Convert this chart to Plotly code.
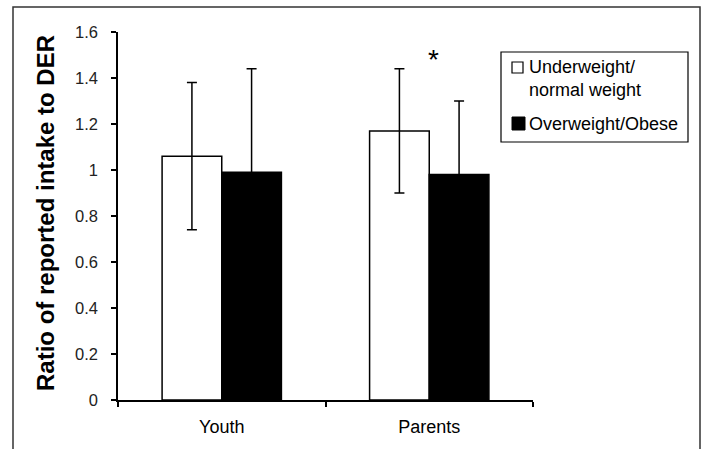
import plotly.graph_objects as go

categories = ["Youth", "Parents"]
normal_vals = [1.06, 1.17]
normal_err = [0.32, 0.27]
obese_vals = [0.99, 0.98]
obese_err = [0.45, 0.32]
y_ticks = [0, 0.2, 0.4, 0.6, 0.8, 1.0, 1.2, 1.4, 1.6]
y_ticktext = ["0", "0.2", "0.4", "0.6", "0.8", "1", "1.2", "1.4", "1.6"]
legend_labels = ["Underweight/<br>normal weight", "Overweight/Obese"]

W, H = 711, 449
L, R, T, B = 118, 178, 32, 49
pw, ph = W - L - R, H - T - B


def px(x):
    return (x - L) / pw


def py(y):
    return (H - B - y) / ph


FONT = "Liberation Sans, Arial, Helvetica, sans-serif"

fig = go.Figure()
fig.add_trace(go.Bar(
    x=categories, y=normal_vals, name=legend_labels[0],
    marker=dict(color="white", line=dict(color="black", width=1.5)),
    error_y=dict(type="data", array=normal_err, color="black", thickness=1.5, width=5),
))
fig.add_trace(go.Bar(
    x=categories, y=obese_vals, name=legend_labels[1],
    marker=dict(color="black", line=dict(color="black", width=1.5)),
    error_y=dict(type="data", array=obese_err, color="black", thickness=1.5, width=5),
))

# significance marker
fig.add_annotation(x="Parents", y=1.48, text="*", showarrow=False, xshift=4,
                   yanchor="middle", font=dict(size=28, color="black", family=FONT))

# y-axis title
fig.add_annotation(xref="paper", yref="paper", x=px(45), y=py(213),
                   text="<b>Ratio of reported intake to DER</b>", textangle=-90,
                   showarrow=False, xanchor="center", yanchor="middle",
                   font=dict(size=24, color="black", family=FONT))

# outer frame
fig.add_shape(type="rect", xref="paper", yref="paper",
              x0=px(13), x1=px(700), y0=py(470), y1=py(7),
              line=dict(color="#333", width=1.5), fillcolor="rgba(0,0,0,0)", layer="below")

# manual legend
fig.add_shape(type="rect", xref="paper", yref="paper",
              x0=px(501), x1=px(688), y0=py(142), y1=py(52),
              line=dict(color="black", width=1.2), fillcolor="white")
fig.add_shape(type="rect", xref="paper", yref="paper",
              x0=px(512), x1=px(523), y0=py(73), y1=py(62),
              line=dict(color="black", width=1.2), fillcolor="white")
fig.add_shape(type="rect", xref="paper", yref="paper",
              x0=px(512), x1=px(525), y0=py(130), y1=py(117),
              line=dict(color="black", width=1), fillcolor="black")
fig.add_annotation(xref="paper", yref="paper", x=px(527), y=py(79),
                   text=legend_labels[0], showarrow=False, align="left",
                   xanchor="left", yanchor="middle",
                   font=dict(size=18, color="black", family=FONT))
fig.add_annotation(xref="paper", yref="paper", x=px(527), y=py(124),
                   text=legend_labels[1], showarrow=False, align="left",
                   xanchor="left", yanchor="middle",
                   font=dict(size=18, color="black", family=FONT))

fig.update_layout(
    width=W, height=H,
    margin=dict(l=L, r=R, t=T, b=B, autoexpand=False),
    paper_bgcolor="white", plot_bgcolor="white",
    barmode="group", bargap=0.425, bargroupgap=0,
    font=dict(family=FONT, color="#111"),
    showlegend=False,
    xaxis=dict(
        showline=True, linecolor="black", linewidth=1.5,
        ticks="outside", ticklen=5, tickcolor="black", tickwidth=1.5,
        tickson="boundaries", tickfont=dict(size=18, color="black"),
        ticklabelstandoff=10,
        showgrid=False, automargin=False,
    ),
    yaxis=dict(
        range=[0, 1.6], tickvals=y_ticks, ticktext=y_ticktext,
        showline=True, linecolor="black", linewidth=1.5,
        ticks="outside", ticklen=5, tickcolor="black", tickwidth=1.5,
        ticklabelstandoff=10,
        tickfont=dict(size=16.5, color="#222"), showgrid=False, zeroline=False,
        automargin=False,
    ),
)

fig.write_html("out.html", config={"displayModeBar": False},
               post_script="document.body.style.margin='0';")
